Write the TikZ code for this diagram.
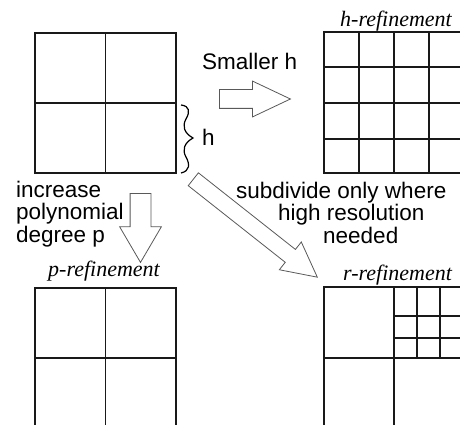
\documentclass[tikz,border=0pt]{standalone}
\usepackage{fontspec}
\setmainfont{Liberation Serif}
\setsansfont{Liberation Sans}
\usetikzlibrary{shapes.arrows}

\begin{document}
\begin{tikzpicture}[
  x=1pt,y=-1pt,
  gitter/.style={line width=1.6pt,black!90},
  rotulo/.style={font=\fontsize{22}{22}\selectfont\itshape,inner sep=0pt},
  texto/.style={font=\sffamily\fontsize{22.5}{22.5}\selectfont,inner sep=0pt,align=left},
  bloco/.style={single arrow,draw=black!65,fill=white,line width=0.8pt,anchor=tail,
                inner xsep=0pt,minimum width=0pt,single arrow head indent=0pt}
]
  \clip (0,0) rectangle (460,425);
  % coarse mesh
  \draw[gitter] (35,33) rectangle (176,173);
  \draw[gitter] (105.5,33) -- (105.5,173) (35,103) -- (176,103);
  % h-refinement
  \draw[gitter] (324,32) rectangle (464,173);
  \foreach \x in {359,394,429} \draw[gitter] (\x,32) -- (\x,173);
  \foreach \y in {67,103,139} \draw[gitter] (324,\y) -- (464,\y);
  % p-refinement
  \draw[gitter] (35,288) rectangle (176,428);
  \draw[gitter] (105.5,288) -- (105.5,428) (35,358) -- (176,358);
  % r-refinement
  \draw[gitter] (324,287) rectangle (464,427);
  \draw[gitter] (394,287) -- (394,427) (324,358) -- (464,358);
  \foreach \x in {417,440} \draw[gitter] (\x,287) -- (\x,358);
  \foreach \y in {316,338} \draw[gitter] (394,\y) -- (464,\y);
  % labels
  \node[rotulo,anchor=base west] (hlab) at (340,27) {h-refinement};
  \node[rotulo,anchor=base west] (plab) at (48,276) {p-refinement};
  \node[rotulo,anchor=base west] (rlab) at (343,280) {r-refinement};
  % wavy brace
  \draw[line width=1.2pt] (181,105) .. controls (190,106) and (190,112) .. (186,119)
    .. controls (182,126) and (184,133) .. (193,138)
    .. controls (184,143) and (182,150) .. (186,157)
    .. controls (190,164) and (190,171) .. (181,173);
  \node[texto,anchor=base west] (hsize) at (202,145) {h};
  % arrows
  \node[bloco,inner ysep=9pt,minimum height=71pt,single arrow head extend=8.5pt,
        single arrow tip angle=50.6] (harrow) at (219,99) {};
  \node[bloco,inner ysep=10pt,minimum height=69pt,single arrow head extend=10.5pt,
        single arrow tip angle=60.7,rotate=-90] (parrow) at (140.5,193) {};
  \node[bloco,inner ysep=7.8pt,minimum height=158pt,single arrow head extend=9.5pt,
        single arrow tip angle=54.5,rotate=-38.3] (rarrow) at (193,179) {};
  % texts
  \node[texto,anchor=base west] (htext) at (202,70) {Smaller h};
  \node[texto,anchor=base west] (ptext) at (16,242) {increase\\polynomial\\degree p};
  \node[texto,anchor=base west] (rtext) at (236,243)
        {subdivide only where\\\hspace*{42pt}high resolution\\\hspace*{87pt}needed};
\end{tikzpicture}
\end{document}
